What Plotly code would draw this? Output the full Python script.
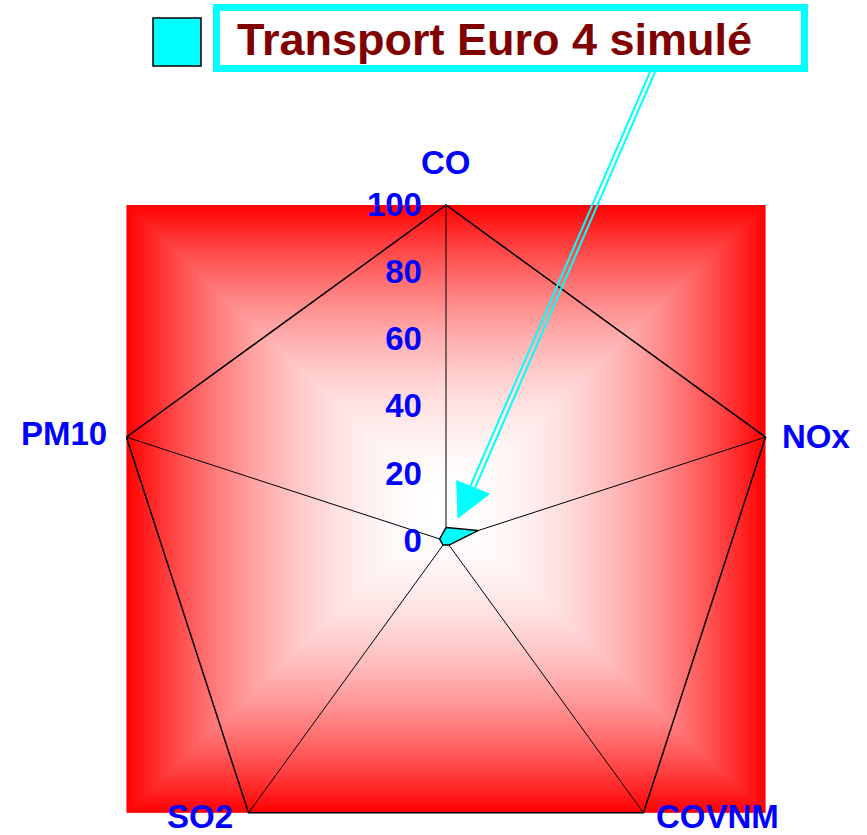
import base64
import struct
import zlib

import numpy as np
import plotly.graph_objects as go

# Pollutant axes (clockwise from the top) and simulated emission index (0-100)
categories = ["CO", "NOx", "COVNM", "SO2", "PM10"]
euro4_values = [4, 10, 1.5, 1.5, 2]
series_name = "Transport Euro 4 simulé"
radial_ticks = [0, 20, 40, 60, 80, 100]

W, H = 867, 877  # canvas is taller than the viewport so the bottom of the polar circle fits
CX, CY, R = 446, 541, 336  # polar centre and radius in pixels


def px(x):
    return x / W


def py(y):
    return 1 - y / H


def png_data_uri(rgb):
    h, w, _ = rgb.shape
    raw = b"".join(b"\x00" + rgb[i].tobytes() for i in range(h))

    def chunk(tag, data):
        return (struct.pack(">I", len(data)) + tag + data
                + struct.pack(">I", zlib.crc32(tag + data) & 0xFFFFFFFF))

    png = (b"\x89PNG\r\n\x1a\n"
           + chunk(b"IHDR", struct.pack(">IIBBBBB", w, h, 8, 2, 0, 0, 0))
           + chunk(b"IDAT", zlib.compress(raw, 9))
           + chunk(b"IEND", b""))
    return "data:image/png;base64," + base64.b64encode(png).decode()


# Rectangular "from centre" gradient: white in the middle, red at the edges
x0, x1 = CX - R * np.sin(np.radians(72)), CX + R * np.sin(np.radians(72))
y0, y1 = CY - R, CY + R * np.cos(np.radians(36))
gw, gh = int(round(x1 - x0)), int(round(y1 - y0))
gx = (np.arange(gw) + 0.5) / gw * 2 - 1
gy = (np.arange(gh) + 0.5) / gh * 2 - 1
t = np.maximum(np.abs(gx)[None, :], np.abs(gy)[:, None])
white = 1 - t ** 2
img = np.empty((gh, gw, 3), dtype=np.uint8)
img[..., 0] = 255
img[..., 1] = np.round(255 * white).astype(np.uint8)
img[..., 2] = img[..., 1]
bg_uri = png_data_uri(img)

label_font = dict(family="Liberation Sans", size=33, color="#0000FF", weight="bold")

fig = go.Figure()
fig.add_trace(go.Scatterpolar(
    r=euro4_values + euro4_values[:1],
    theta=categories + categories[:1],
    mode="lines",
    fill="toself",
    fillcolor="#00FFFF",
    line=dict(color="black", width=1.5),
    name=series_name,
    showlegend=False,
))

fig.update_layout(
    width=W,
    height=H,
    margin=dict(l=0, r=0, t=0, b=0),
    paper_bgcolor="white",
    polar=dict(
        domain=dict(x=[px(CX - R), px(CX + R)], y=[py(CY + R), py(CY - R)]),
        bgcolor="rgba(0,0,0,0)",
        gridshape="linear",
        radialaxis=dict(
            range=[0, 100],
            tickvals=radial_ticks,
            angle=90,
            tickangle=90,
            side="counterclockwise",
            showgrid=False,
            showline=False,
            ticks="outside",
            ticklen=12,
            tickcolor="rgba(0,0,0,0)",
            tickfont=label_font,
        ),
        angularaxis=dict(
            categoryarray=categories,
            categoryorder="array",
            direction="clockwise",
            rotation=90,
            showline=True,
            linecolor="black",
            linewidth=1.5,
            showgrid=True,
            gridcolor="black",
            gridwidth=1,
            ticks="",
            showticklabels=False,
        ),
    ),
    images=[dict(
        source=bg_uri,
        xref="paper", yref="paper",
        x=px(x0), y=py(y0),
        sizex=px(x1) - px(x0), sizey=py(y0) - py(y1),
        xanchor="left", yanchor="top",
        sizing="stretch",
        layer="below",
    )],
)

# Category captions placed just outside each vertex of the pentagon
caption_anchor = {
    "CO": (446, 163, "center"),
    "NOx": (780, 436, "left"),
    "COVNM": (717, 816, "center"),
    "SO2": (200, 816, "center"),
    "PM10": (109, 433, "right"),
}
for name in categories:
    ax_px, ay_px, xa = caption_anchor[name]
    fig.add_annotation(
        xref="paper", yref="paper", x=px(ax_px), y=py(ay_px),
        text=name, showarrow=False, xanchor=xa, yanchor="middle",
        font=label_font,
    )

# Legend swatch, framed series title and the double-shafted pointer
shapes = [
    dict(type="rect", xref="paper", yref="paper",
         x0=px(153), x1=px(201), y0=py(66), y1=py(18),
         fillcolor="#00FFFF", line=dict(color="black", width=1.5)),
    dict(type="rect", xref="paper", yref="paper",
         x0=px(216.5), x1=px(804.5), y0=py(68.5), y1=py(7.5),
         fillcolor="white", line=dict(color="#00FFFF", width=7)),
    dict(type="line", xref="paper", yref="paper",
         x0=px(650), y0=py(72), x1=px(470), y1=py(487),
         line=dict(color="#00FFFF", width=2)),
    dict(type="line", xref="paper", yref="paper",
         x0=px(655), y0=py(72), x1=px(475), y1=py(488),
         line=dict(color="#00FFFF", width=2)),
    dict(type="path", xref="paper", yref="paper",
         path=(f"M {px(456.7)},{py(480.7)} L {px(489.3)},{py(494)} "
               f"L {px(458)},{py(518)} Z"),
         fillcolor="#00FFFF", line=dict(color="#00FFFF", width=1)),
]
fig.update_layout(shapes=shapes)

fig.add_annotation(
    xref="paper", yref="paper", x=px(494), y=py(40),
    text=series_name, showarrow=False,
    xanchor="center", yanchor="middle",
    font=dict(family="Liberation Sans", size=45, color="#800000", weight="bold"),
)

fig.write_html(
    "out.html",
    post_script=("document.documentElement.style.overflow='hidden';"
                 "document.body.style.overflow='hidden';"
                 "document.body.style.margin='0';"),
)
